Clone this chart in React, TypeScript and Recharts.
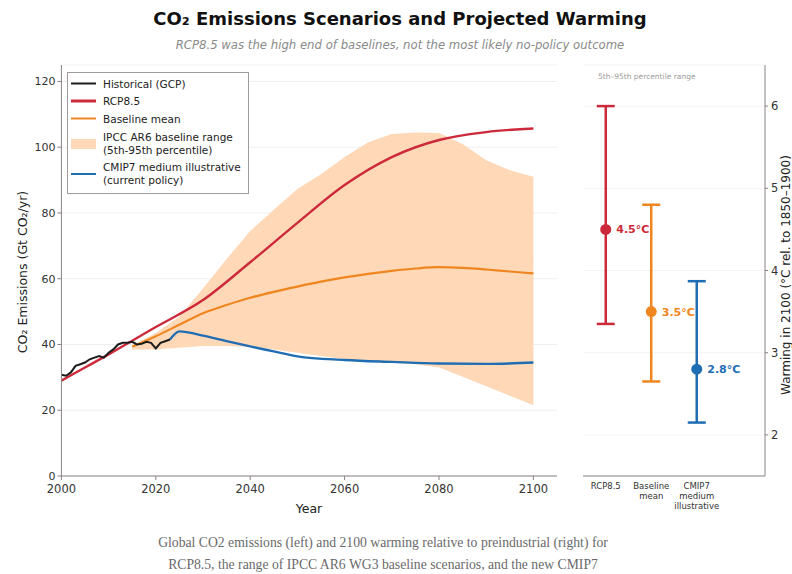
import React from 'react';
import {
  ComposedChart,
  Line,
  Area,
  XAxis,
  YAxis,
  CartesianGrid,
  Scatter,
  ErrorBar,
  LabelList,
} from 'recharts';

// ---------- Left panel data (Gt CO2/yr) ----------
const histYears = [2000, 2001, 2002, 2003, 2004, 2005, 2006, 2007, 2008, 2009, 2010, 2011, 2012, 2013, 2014, 2015, 2016, 2017, 2018, 2019, 2020, 2021, 2022, 2023];
const histValues = [30.8, 30.5, 31.5, 33.5, 34.0, 34.5, 35.5, 36.0, 36.5, 36.0, 37.5, 38.5, 40.0, 40.5, 40.5, 40.8, 40.0, 40.2, 40.8, 40.5, 38.8, 40.5, 41.0, 41.5];

const rcpYears = [2000, 2005, 2010, 2020, 2030, 2040, 2050, 2060, 2070, 2080, 2090, 2100];
const rcpValues = [29.0, 33.0, 37.0, 45.3, 53.5, 65.0, 77.0, 88.5, 97.0, 102.2, 104.6, 105.7];

const baseYears = [2015, 2020, 2025, 2030, 2035, 2040, 2045, 2050, 2055, 2060, 2065, 2070, 2075, 2080, 2085, 2090, 2095, 2100];
const baseMean = [39.3, 42.5, 46.0, 49.5, 52.0, 54.2, 56.0, 57.6, 59.1, 60.4, 61.5, 62.4, 63.1, 63.5, 63.3, 62.8, 62.2, 61.6];
const rangeLow = [38.5, 38.5, 39.0, 39.5, 39.5, 39.2, 38.5, 37.5, 36.5, 35.5, 35.0, 34.5, 34.0, 33.0, 30.2, 27.3, 24.4, 21.5];
const rangeHigh = [39.8, 43.5, 48.5, 57.0, 66.0, 74.5, 81.0, 87.3, 91.8, 97.0, 101.5, 104.0, 104.5, 104.3, 101.0, 96.0, 93.0, 91.0];

const cmipYears = [2023, 2025, 2030, 2035, 2040, 2045, 2050, 2060, 2070, 2080, 2090, 2100];
const cmipValues = [41.5, 44.0, 42.7, 41.0, 39.4, 37.9, 36.4, 35.3, 34.7, 34.2, 34.1, 34.5];

const yearTicks = [2000, 2020, 2040, 2060, 2080, 2100];
const emissionTicks = [0, 20, 40, 60, 80, 100, 120];

// ---------- Right panel data (°C in 2100) ----------
const scenarioTickLines = [['RCP8.5'], ['Baseline', 'mean'], ['CMIP7', 'medium', 'illustrative']];
const warmingCentral = [4.5, 3.5, 2.8];
const warmingLow = [3.35, 2.65, 2.15];
const warmingHigh = [6.0, 4.8, 3.87];
const warmingLabels = ['4.5°C', '3.5°C', '2.8°C'];
const warmingTicks = [2, 3, 4, 5, 6];

const legendLabels = [
  ['Historical (GCP)'],
  ['RCP8.5'],
  ['Baseline mean'],
  ['IPCC AR6 baseline range', '(5th-95th percentile)'],
  ['CMIP7 medium illustrative', '(current policy)'],
];

// ---------- Style ----------
const C_HIST = '#1c1c1c';
const C_RCP = '#cc2a3a';
const C_BASE = '#f08620';
const C_CMIP = '#1f6db2';
const C_BAND = '#ffd8b7';
const AXIS = '#8a8383';
const FONT = '"DejaVu Sans", sans-serif';
const scenarioColors = [C_RCP, C_BASE, C_CMIP];

const histData = histYears.map((year, i) => ({ year, value: histValues[i] }));
const rcpData = rcpYears.map((year, i) => ({ year, value: rcpValues[i] }));
const baseData = baseYears.map((year, i) => ({ year, value: baseMean[i] }));
const bandData = baseYears.map((year, i) => ({ year, range: [rangeLow[i], rangeHigh[i]] }));
const cmipData = cmipYears.map((year, i) => ({ year, value: cmipValues[i] }));

const warmData = warmingCentral.map((v, i) => ({
  idx: i,
  value: v,
  err: [v - warmingLow[i], warmingHigh[i] - v],
  label: warmingLabels[i],
}));

const ScenarioTick = (props: any) => {
  const { x, y, payload } = props;
  const lines = scenarioTickLines[Number(payload.value)] || [];
  return (
    <text x={x} y={y} textAnchor="middle" fontSize={8.5} fill="#333" fontFamily={FONT}>
      {lines.map((l, i) => (
        <tspan key={i} x={x} dy={i === 0 ? 9 : 10}>
          {l}
        </tspan>
      ))}
    </text>
  );
};

const legendSwatch = (i: number) => {
  if (i === 3) {
    return <div style={{ width: 25, height: 10, background: C_BAND }} />;
  }
  const col = [C_HIST, C_RCP, C_BASE, C_BAND, C_CMIP][i];
  return <div style={{ width: 25, height: 2.5, background: col }} />;
};

const legendCenters = [10.7, 28, 45.7, 70.5, 101];

export default function App() {
  return (
    <div
      style={{
        position: 'absolute',
        left: 0,
        top: 0,
        width: 792,
        height: 574,
        background: '#fff',
        overflow: 'hidden',
        fontFamily: FONT,
      }}
    >
      {/* Title */}
      <div
        style={{
          position: 'absolute',
          left: 4,
          top: 8,
          width: 792,
          textAlign: 'center',
          fontSize: 18,
          lineHeight: '22px',
          fontWeight: 'bold',
          color: '#111',
        }}
      >
        CO₂ Emissions Scenarios and Projected Warming
      </div>
      <div
        style={{
          position: 'absolute',
          left: 4,
          top: 38,
          width: 792,
          textAlign: 'center',
          fontSize: 11.7,
          lineHeight: '14px',
          fontStyle: 'italic',
          color: '#8a8a8a',
        }}
      >
        RCP8.5 was the high end of baselines, not the most likely no-policy outcome
      </div>

      {/* Left panel */}
      <div style={{ position: 'absolute', left: 0, top: 0 }}>
        <ComposedChart width={580} height={520} margin={{ top: 65, right: 23, bottom: 14, left: 11.4 }}>
          <CartesianGrid vertical={false} stroke="#efefef" />
          <XAxis
            type="number"
            dataKey="year"
            domain={[2000, 2105]}
            ticks={yearTicks}
            allowDataOverflow
            height={30}
            stroke={AXIS}
            tickSize={4}
            tickMargin={5}
            tick={{ fontSize: 11.5, fill: '#333', fontFamily: FONT }}
          />
          <YAxis
            type="number"
            domain={[0, 125]}
            ticks={emissionTicks}
            allowDataOverflow
            width={50}
            stroke={AXIS}
            tickSize={4}
            tickMargin={2}
            tick={{ fontSize: 11, fill: '#333', fontFamily: FONT }}
          />
          <Area
            data={bandData}
            dataKey="range"
            type="linear"
            stroke="none"
            fill={C_BAND}
            fillOpacity={1}
            isAnimationActive={false}
          />
          <Line data={baseData} dataKey="value" type="monotone" stroke={C_BASE} strokeWidth={2.2} dot={false} isAnimationActive={false} />
          <Line data={rcpData} dataKey="value" type="monotone" stroke={C_RCP} strokeWidth={2.4} dot={false} isAnimationActive={false} />
          <Line data={cmipData} dataKey="value" type="monotone" stroke={C_CMIP} strokeWidth={2.4} dot={false} isAnimationActive={false} />
          <Line data={histData} dataKey="value" type="linear" stroke={C_HIST} strokeWidth={2} dot={false} isAnimationActive={false} />
        </ComposedChart>
      </div>

      {/* Right panel */}
      <div style={{ position: 'absolute', left: 560, top: 0 }}>
        <ComposedChart width={232} height={520} margin={{ top: 65, right: 0, bottom: 4, left: 23 }}>
          <CartesianGrid vertical={false} stroke="#f3f3f3" />
          <XAxis
            type="number"
            dataKey="idx"
            domain={[-0.5, 3.5]}
            ticks={[0, 1, 2]}
            allowDataOverflow
            height={40}
            stroke={AXIS}
            tickLine={false}
            tickSize={0}
            tickMargin={4}
            tick={<ScenarioTick />}
          />
          <YAxis
            type="number"
            dataKey="value"
            orientation="right"
            domain={[1.5, 6.5]}
            ticks={warmingTicks}
            allowDataOverflow
            width={27}
            stroke={AXIS}
            tickSize={3}
            tickMargin={3}
            tick={{ fontSize: 11.5, fill: '#333', fontFamily: FONT }}
          />
          {warmData.map((d, i) => (
            <Scatter
              key={i}
              data={[d]}
              dataKey="value"
              isAnimationActive={false}
              fill={scenarioColors[i]}
              shape={(p: any) => <circle cx={p.cx} cy={p.cy} r={5.5} fill={scenarioColors[i]} />}
            >
              <ErrorBar dataKey="err" direction="y" width={9} strokeWidth={2.5} stroke={scenarioColors[i]} isAnimationActive={false} />
              <LabelList
                dataKey="label"
                position="right"
                offset={6}
                fill={scenarioColors[i]}
                fontSize={11}
                fontWeight="bold"
                fontFamily={FONT}
              />
            </Scatter>
          ))}
        </ComposedChart>
      </div>

      <div
        style={{
          position: 'absolute',
          left: 598,
          top: 72,
          fontSize: 7.5,
          lineHeight: '10px',
          color: '#9a9a9a',
          whiteSpace: 'nowrap',
        }}
      >
        5th–95th percentile range
      </div>

      {/* Legend */}
      <div
        style={{
          position: 'absolute',
          left: 67,
          top: 72,
          width: 180,
          height: 120,
          border: '1px solid #a09a9a',
          background: 'rgba(255,255,255,0.85)',
        }}
      >
        {legendLabels.map((lines, i) => (
          <div
            key={i}
            style={{
              position: 'absolute',
              left: 3,
              top: legendCenters[i],
              transform: 'translateY(-50%)',
              display: 'flex',
              alignItems: 'center',
            }}
          >
            <div style={{ width: 25, display: 'flex', justifyContent: 'center' }}>{legendSwatch(i)}</div>
            <div style={{ marginLeft: 7, fontSize: 10.5, lineHeight: '13px', color: '#222', whiteSpace: 'nowrap' }}>
              {lines.map((l, j) => (
                <div key={j}>{l}</div>
              ))}
            </div>
          </div>
        ))}
      </div>

      {/* Axis labels */}
      <div
        style={{
          position: 'absolute',
          left: 309,
          top: 508,
          transform: 'translate(-50%,-50%)',
          fontSize: 12.5,
          color: '#222',
          whiteSpace: 'nowrap',
        }}
      >
        Year
      </div>
      <div
        style={{
          position: 'absolute',
          left: 22,
          top: 272,
          transform: 'translate(-50%,-50%) rotate(-90deg)',
          fontSize: 12.5,
          color: '#222',
          whiteSpace: 'nowrap',
        }}
      >
        CO₂ Emissions (Gt CO₂/yr)
      </div>
      <div
        style={{
          position: 'absolute',
          left: 786,
          top: 275,
          transform: 'translate(-50%,-50%) rotate(-90deg)',
          fontSize: 12,
          color: '#222',
          whiteSpace: 'nowrap',
        }}
      >
        Warming in 2100 (°C rel. to 1850–1900)
      </div>

      {/* Caption */}
      <div
        style={{
          position: 'absolute',
          left: 0,
          top: 532,
          width: 766,
          textAlign: 'center',
          fontFamily: '"Liberation Serif", serif',
          fontSize: 13.7,
          lineHeight: '22px',
          color: '#6a6a6a',
        }}
      >
        <div>Global CO2 emissions (left) and 2100 warming relative to preindustrial (right) for</div>
        <div>RCP8.5, the range of IPCC AR6 WG3 baseline scenarios, and the new CMIP7</div>
      </div>
    </div>
  );
}
